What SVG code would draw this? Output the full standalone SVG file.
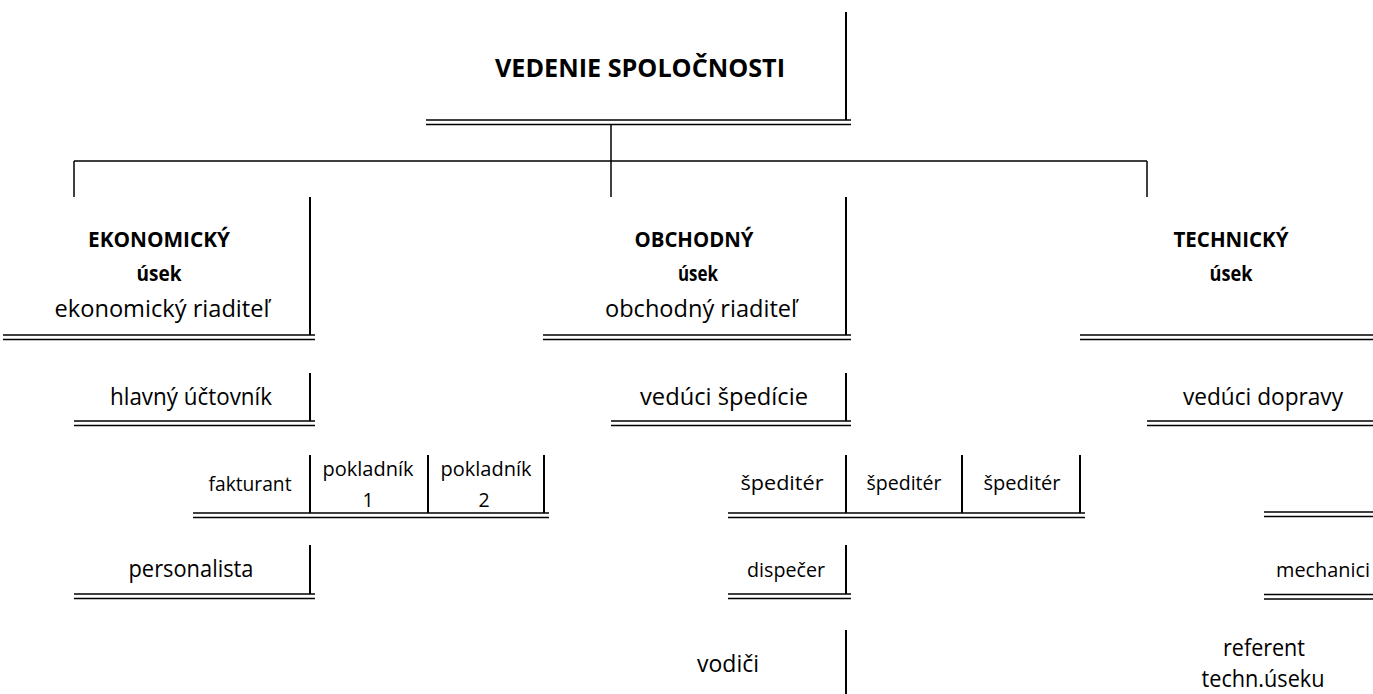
<svg xmlns="http://www.w3.org/2000/svg" width="1373" height="694" viewBox="0 0 1373 694">
<style>
text{font-family:"Open Sans","Noto Sans","Liberation Sans",sans-serif;fill:#000;text-anchor:middle}
.b{font-weight:bold}
.t{font-size:25px}
.h{font-size:20.5px}
.n{font-size:23px}
.s{font-size:19.5px}
line{stroke:#000}
.v{stroke-width:2}
.d{stroke-width:1.5}
.c{stroke-width:1.5}
</style>
<rect width="1373" height="694" fill="#fff"/>
<g id="connectors">
<line class="c" x1="611" y1="124" x2="611" y2="197"/>
<line class="c" x1="74" y1="161" x2="1147" y2="161"/>
<line class="c" x1="74" y1="161" x2="74" y2="197"/>
<line class="c" x1="1147" y1="161" x2="1147" y2="197"/>
</g>
<g id="vedenie">
<line class="v" x1="846" y1="12" x2="846" y2="120"/>
<line class="d" x1="426" y1="120" x2="851" y2="120"/>
<line class="d" x1="426" y1="124.5" x2="851" y2="124.5"/>
<text class="b t" x="640" y="77" textLength="290" lengthAdjust="spacingAndGlyphs">VEDENIE SPOLOČNOSTI</text>
</g>
<g id="ekonomicky">
<line class="v" x1="310" y1="197" x2="310" y2="335"/>
<line class="d" x1="3" y1="335" x2="315" y2="335"/>
<line class="d" x1="3" y1="339.5" x2="315" y2="339.5"/>
<text class="b h" x="159" y="247" textLength="142" lengthAdjust="spacingAndGlyphs">EKONOMICKÝ</text>
<text class="b h" x="159" y="281" textLength="45" lengthAdjust="spacingAndGlyphs">úsek</text>
<text class="n" x="162" y="317" textLength="215" lengthAdjust="spacingAndGlyphs">ekonomický riaditeľ</text>
</g>
<g id="obchodny">
<line class="v" x1="846" y1="197" x2="846" y2="335"/>
<line class="d" x1="543" y1="335" x2="851" y2="335"/>
<line class="d" x1="543" y1="339.5" x2="851" y2="339.5"/>
<text class="b h" x="694" y="247" textLength="119" lengthAdjust="spacingAndGlyphs">OBCHODNÝ</text>
<text class="b h" x="698" y="281" textLength="40" lengthAdjust="spacingAndGlyphs">úsek</text>
<text class="n" x="701" y="317" textLength="192" lengthAdjust="spacingAndGlyphs">obchodný riaditeľ</text>
</g>
<g id="technicky">
<line class="d" x1="1080" y1="335" x2="1373" y2="335"/>
<line class="d" x1="1080" y1="339.5" x2="1373" y2="339.5"/>
<text class="b h" x="1231" y="247" textLength="115" lengthAdjust="spacingAndGlyphs">TECHNICKÝ</text>
<text class="b h" x="1231" y="281" textLength="43" lengthAdjust="spacingAndGlyphs">úsek</text>
</g>
<g id="hlavny-uctovnik">
<line class="v" x1="310" y1="373" x2="310" y2="421"/>
<line class="d" x1="74" y1="421" x2="315" y2="421"/>
<line class="d" x1="74" y1="425.5" x2="315" y2="425.5"/>
<text class="n" x="191" y="405" textLength="162" lengthAdjust="spacingAndGlyphs">hlavný účtovník</text>
</g>
<g id="veduci-spedicie">
<line class="v" x1="846" y1="373" x2="846" y2="421"/>
<line class="d" x1="611" y1="421" x2="851" y2="421"/>
<line class="d" x1="611" y1="425.5" x2="851" y2="425.5"/>
<text class="n" x="724" y="405" textLength="168" lengthAdjust="spacingAndGlyphs">vedúci špedície</text>
</g>
<g id="veduci-dopravy">
<line class="d" x1="1147" y1="421" x2="1373" y2="421"/>
<line class="d" x1="1147" y1="425.5" x2="1373" y2="425.5"/>
<text class="n" x="1263" y="405" textLength="160" lengthAdjust="spacingAndGlyphs">vedúci dopravy</text>
</g>
<g id="ekon-row">
<line class="v" x1="310" y1="455" x2="310" y2="513"/>
<line class="v" x1="428" y1="455" x2="428" y2="513"/>
<line class="v" x1="544" y1="455" x2="544" y2="513"/>
<line class="d" x1="193" y1="513" x2="549" y2="513"/>
<line class="d" x1="193" y1="517.5" x2="549" y2="517.5"/>
<text class="s" x="250" y="491" textLength="83" lengthAdjust="spacingAndGlyphs">fakturant</text>
<text class="s" x="368" y="476" textLength="91" lengthAdjust="spacingAndGlyphs">pokladník</text>
<text class="s" x="368" y="507">1</text>
<text class="s" x="486" y="476" textLength="91" lengthAdjust="spacingAndGlyphs">pokladník</text>
<text class="s" x="484" y="507">2</text>
</g>
<g id="speditery">
<line class="v" x1="846" y1="455" x2="846" y2="513"/>
<line class="v" x1="962" y1="455" x2="962" y2="513"/>
<line class="v" x1="1080" y1="455" x2="1080" y2="513"/>
<line class="d" x1="728" y1="513" x2="1085" y2="513"/>
<line class="d" x1="728" y1="517.5" x2="1085" y2="517.5"/>
<text class="s" x="782" y="490" textLength="83" lengthAdjust="spacingAndGlyphs">špeditér</text>
<text class="s" x="904" y="490" textLength="75" lengthAdjust="spacingAndGlyphs">špeditér</text>
<text class="s" x="1022" y="490" textLength="77" lengthAdjust="spacingAndGlyphs">špeditér</text>
</g>
<g id="tech-blank">
<line class="d" x1="1264" y1="512" x2="1373" y2="512"/>
<line class="d" x1="1264" y1="516.5" x2="1373" y2="516.5"/>
</g>
<g id="personalista">
<line class="v" x1="310" y1="545" x2="310" y2="594"/>
<line class="d" x1="74" y1="594" x2="315" y2="594"/>
<line class="d" x1="74" y1="598.5" x2="315" y2="598.5"/>
<text class="n" x="191" y="577" textLength="125" lengthAdjust="spacingAndGlyphs">personalista</text>
</g>
<g id="dispecer">
<line class="v" x1="846" y1="545" x2="846" y2="594"/>
<line class="d" x1="728" y1="594" x2="851" y2="594"/>
<line class="d" x1="728" y1="598.5" x2="851" y2="598.5"/>
<text class="s" x="786" y="577" textLength="78" lengthAdjust="spacingAndGlyphs">dispečer</text>
</g>
<g id="mechanici">
<line class="d" x1="1264" y1="594.5" x2="1373" y2="594.5"/>
<line class="d" x1="1264" y1="599" x2="1373" y2="599"/>
<text class="s" x="1323" y="577" textLength="94" lengthAdjust="spacingAndGlyphs">mechanici</text>
</g>
<g id="vodici">
<line class="v" x1="846" y1="630" x2="846" y2="694"/>
<text class="n" x="728" y="672" textLength="62" lengthAdjust="spacingAndGlyphs">vodiči</text>
</g>
<g id="referent">
<text class="n" x="1264" y="656" textLength="82" lengthAdjust="spacingAndGlyphs">referent</text>
<text class="n" x="1263" y="687" textLength="123" lengthAdjust="spacingAndGlyphs">techn.úseku</text>
</g>
</svg>
